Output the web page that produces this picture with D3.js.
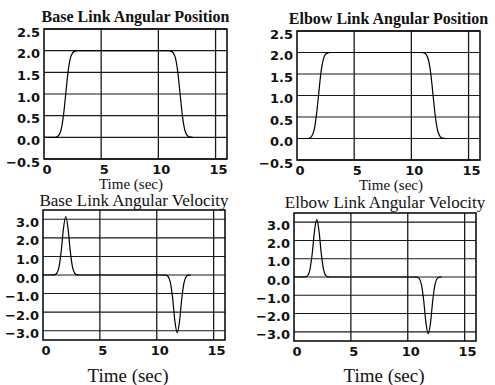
<!DOCTYPE html>
<html>
<head>
<meta charset="utf-8">
<script src="https://cdn.jsdelivr.net/npm/d3@7"></script>
<style>
  body { margin: 0; background: #fff; }
  svg { display: block; }
  .tick-label { font-family: "DejaVu Sans", sans-serif; font-weight: bold; font-size: 13px; fill: #111; }
  .title { font-family: "Liberation Serif", "Times New Roman", serif; fill: #111; }
</style>
</head>
<body>
<svg id="chart" width="495" height="385"></svg>
<script>
'use strict';

// Datos
var timeTicks = [0, 5, 10, 15];
var positionTicks = [-0.5, 0, 0.5, 1, 1.5, 2, 2.5];
var velocityTicks = [-3, -2, -1, 0, 1, 2, 3];

var positionTime = [0, 1.0, 1.1, 1.3, 1.5, 1.7, 1.9, 2.1, 2.3, 2.5, 2.7, 2.9, 3.1,
  10.7, 10.9, 11.1, 11.3, 11.5, 11.7, 11.9, 12.1, 12.3, 12.5, 12.7, 13.0];
var basePosition = [0, 0, 0.01, 0.05, 0.18, 0.5, 1.0, 1.5, 1.82, 1.95, 1.99, 2.0, 2.0,
  2.0, 2.0, 1.99, 1.95, 1.82, 1.5, 1.0, 0.5, 0.18, 0.05, 0.01, 0];
var elbowPosition = [0, 0, 0.01, 0.06, 0.2, 0.55, 1.05, 1.55, 1.84, 1.96, 1.99, 2.0, 2.0,
  2.0, 2.0, 1.99, 1.95, 1.82, 1.5, 1.0, 0.5, 0.18, 0.05, 0.01, 0];

var velocityTime = [0, 1.0, 1.2, 1.4, 1.6, 1.8, 2.0, 2.2, 2.4, 2.6, 2.8, 3.0, 3.5,
  10.3, 10.8, 11.0, 11.2, 11.4, 11.6, 11.8, 12.0, 12.2, 12.4, 12.6, 12.8, 13.0];
var baseVelocity = [0, 0.01, 0.08, 0.41, 1.27, 2.51, 3.15, 2.51, 1.27, 0.41, 0.08, 0.01, 0,
  0, -0.01, -0.08, -0.41, -1.27, -2.51, -3.1, -2.51, -1.27, -0.41, -0.08, -0.01, 0];
var elbowVelocity = [0, 0.01, 0.08, 0.41, 1.27, 2.51, 3.15, 2.51, 1.27, 0.41, 0.08, 0.01, 0,
  0, -0.01, -0.08, -0.41, -1.27, -2.51, -3.1, -2.51, -1.27, -0.41, -0.08, -0.01, 0];

// Paneles (posicion en pixeles de cada recuadro)
var paneles = [
  { titulo: 'Base Link Angular Position', tiempo: positionTime, valores: basePosition,
    ticks: positionTicks, dominio: [-0.5, 2.5],
    x0: 44, x1: 227, y0: 159, y1: 29, tituloY: 16, tituloPeso: 'bold', tituloTam: 16,
    ejeX: 131, ejeY: 184, ejeTam: 15 },
  { titulo: 'Elbow Link Angular Position', tiempo: positionTime, valores: elbowPosition,
    ticks: positionTicks, dominio: [-0.5, 2.5],
    x0: 297, x1: 480, y0: 160, y1: 31, tituloY: 18, tituloPeso: 'bold', tituloTam: 16,
    ejeX: 391, ejeY: 185, ejeTam: 15 },
  { titulo: 'Base Link Angular Velocity', tiempo: velocityTime, valores: baseVelocity,
    ticks: velocityTicks, dominio: [-3.5, 3.5],
    x0: 43, x1: 225, y0: 340, y1: 210, tituloY: 200, tituloPeso: 'normal', tituloTam: 17,
    ejeX: 128, ejeY: 375, ejeTam: 19 },
  { titulo: 'Elbow Link Angular Velocity', tiempo: velocityTime, valores: elbowVelocity,
    ticks: velocityTicks, dominio: [-3.5, 3.5],
    x0: 294, x1: 476, y0: 341, y1: 213, tituloY: 202, tituloPeso: 'normal', tituloTam: 17,
    ejeX: 384, ejeY: 375, ejeTam: 19 }
];

var svg = d3.select('#chart');
var fmt = d3.format('.1f');

paneles.forEach(function(p) {
  var x = d3.scaleLinear().domain([0, 16]).range([p.x0, p.x1]);
  var y = d3.scaleLinear().domain(p.dominio).range([p.y0, p.y1]);
  var g = svg.append('g');

  // rejilla horizontal
  g.selectAll('.gy').data(p.ticks).enter().append('line')
    .attr('x1', p.x0).attr('x2', p.x1)
    .attr('y1', function(d) { return y(d); }).attr('y2', function(d) { return y(d); })
    .attr('stroke', '#1a1a1a').attr('stroke-width', 1.1);

  // rejilla vertical
  g.selectAll('.gx').data(timeTicks.slice(1)).enter().append('line')
    .attr('x1', function(d) { return x(d); }).attr('x2', function(d) { return x(d); })
    .attr('y1', p.y1).attr('y2', p.y0)
    .attr('stroke', '#1a1a1a').attr('stroke-width', 1.3);

  // marco
  g.append('rect')
    .attr('x', p.x0).attr('y', p.y1)
    .attr('width', p.x1 - p.x0).attr('height', p.y0 - p.y1)
    .attr('fill', 'none').attr('stroke', '#000').attr('stroke-width', 1.5);

  // curva
  var puntos = p.tiempo.map(function(t, i) { return [t, p.valores[i]]; });
  var linea = d3.line()
    .x(function(d) { return x(d[0]); })
    .y(function(d) { return y(d[1]); })
    .curve(d3.curveMonotoneX);
  g.append('path').datum(puntos)
    .attr('d', linea)
    .attr('fill', 'none').attr('stroke', '#000').attr('stroke-width', 1.2);

  // etiquetas eje y
  g.selectAll('.ly').data(p.ticks).enter().append('text')
    .attr('class', 'tick-label')
    .attr('x', p.x0 - 4)
    .attr('y', function(d) { return y(d) + 3; })
    .attr('text-anchor', 'end')
    .attr('dominant-baseline', 'central')
    .text(function(d) { return fmt(d); });

  // etiquetas eje x
  g.selectAll('.lx').data(timeTicks).enter().append('text')
    .attr('class', 'tick-label')
    .attr('x', function(d) { return x(d) + 3; })
    .attr('y', p.y0 + 10)
    .attr('text-anchor', 'middle')
    .attr('dominant-baseline', 'central')
    .text(function(d) { return d; });

  // titulo
  g.append('text')
    .attr('class', 'title')
    .attr('x', (p.x0 + p.x1) / 2)
    .attr('y', p.tituloY)
    .attr('text-anchor', 'middle')
    .attr('dominant-baseline', 'central')
    .style('font-size', p.tituloTam + 'px')
    .style('font-weight', p.tituloPeso)
    .text(p.titulo);

  // titulo eje x
  g.append('text')
    .attr('class', 'title')
    .attr('x', p.ejeX)
    .attr('y', p.ejeY)
    .attr('text-anchor', 'middle')
    .attr('dominant-baseline', 'central')
    .style('font-size', p.ejeTam + 'px')
    .text('Time (sec)');
});
</script>
</body>
</html>
